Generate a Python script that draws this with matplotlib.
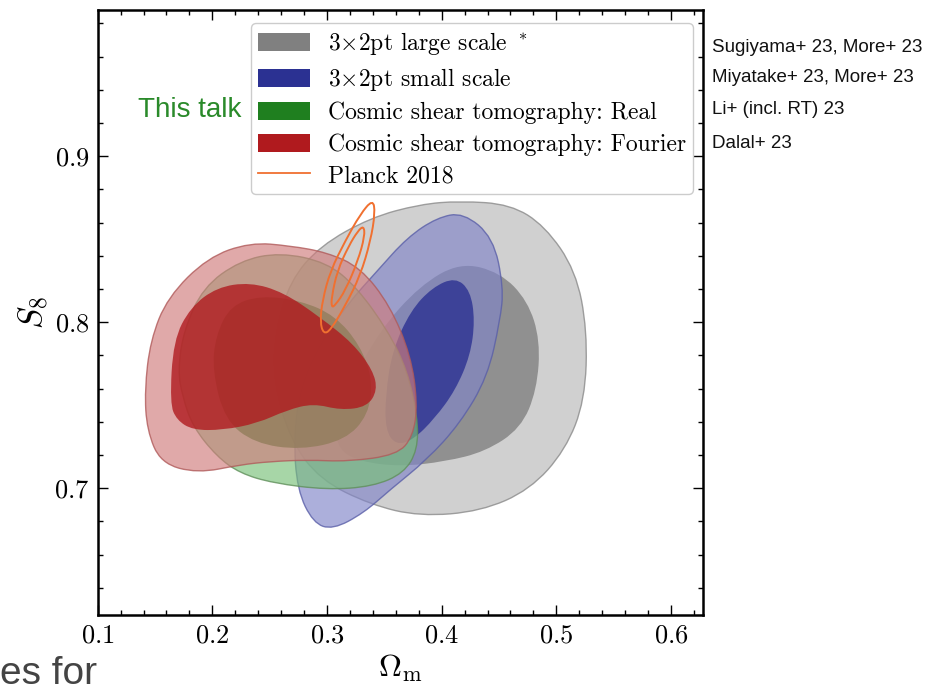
import numpy as np
import matplotlib
matplotlib.use("Agg")
import matplotlib.pyplot as plt
from matplotlib.path import Path
from matplotlib.patches import PathPatch, Patch
from matplotlib.lines import Line2D

plt.rcParams['font.family'] = 'serif'
plt.rcParams['font.serif'] = ['cmr10', 'DejaVu Serif']
plt.rcParams['mathtext.fontset'] = 'cm'
plt.rcParams['axes.formatter.use_mathtext'] = True

# contour outlines (Omega_m, S8)
gray_outer_x = [0.416, 0.460, 0.490, 0.517, 0.527, 0.525, 0.508, 0.477, 0.434, 0.381,
                0.338, 0.294, 0.268, 0.253, 0.255, 0.268, 0.294, 0.338, 0.381]
gray_outer_y = [0.873, 0.871, 0.858, 0.831, 0.795, 0.753, 0.723, 0.699, 0.686, 0.683,
                0.690, 0.705, 0.729, 0.765, 0.795, 0.825, 0.846, 0.863, 0.871]
gray_inner_x = [0.416, 0.451, 0.475, 0.486, 0.483, 0.469, 0.438, 0.403, 0.364, 0.329,
                0.310, 0.307, 0.320, 0.346, 0.381]
gray_inner_y = [0.836, 0.830, 0.813, 0.789, 0.759, 0.736, 0.722, 0.716, 0.713, 0.716,
                0.723, 0.738, 0.762, 0.795, 0.822]

blue_outer_x = [0.419, 0.445, 0.454, 0.451, 0.440, 0.416, 0.387, 0.355, 0.332, 0.305,
                0.288, 0.274, 0.271, 0.277, 0.294, 0.318, 0.344, 0.370, 0.396]
blue_outer_y = [0.866, 0.851, 0.821, 0.801, 0.767, 0.739, 0.717, 0.699, 0.685, 0.675,
                0.679, 0.699, 0.731, 0.761, 0.787, 0.811, 0.831, 0.851, 0.863]
blue_inner_x = [0.412, 0.425, 0.429, 0.425, 0.412, 0.394, 0.375, 0.360, 0.351, 0.351,
                0.357, 0.373, 0.392]
blue_inner_y = [0.827, 0.819, 0.801, 0.780, 0.759, 0.742, 0.729, 0.726, 0.735, 0.756,
                0.783, 0.807, 0.821]

green_outer_x = [0.170, 0.175, 0.192, 0.224, 0.259, 0.300, 0.326, 0.353, 0.370, 0.379,
                 0.379, 0.367, 0.340, 0.300, 0.253, 0.224, 0.204, 0.183, 0.174]
green_outer_y = [0.771, 0.795, 0.821, 0.837, 0.842, 0.836, 0.821, 0.795, 0.771, 0.743,
                 0.723, 0.709, 0.701, 0.699, 0.703, 0.709, 0.719, 0.737, 0.755]
green_inner_x = [0.200, 0.203, 0.216, 0.242, 0.277, 0.307, 0.329, 0.340, 0.336, 0.316,
                 0.277, 0.237, 0.211]
green_inner_y = [0.771, 0.792, 0.810, 0.816, 0.813, 0.804, 0.786, 0.765, 0.744, 0.729,
                 0.723, 0.727, 0.741]

red_outer_x = [0.143, 0.141, 0.146, 0.161, 0.196, 0.233, 0.268, 0.300, 0.329, 0.355,
               0.373, 0.379, 0.375, 0.361, 0.318, 0.283, 0.250, 0.224, 0.187, 0.155]
red_outer_y = [0.735, 0.759, 0.789, 0.815, 0.839, 0.848, 0.846, 0.842, 0.833, 0.810,
               0.780, 0.751, 0.731, 0.720, 0.716, 0.717, 0.716, 0.714, 0.709, 0.715]
red_inner_x = [0.163, 0.166, 0.181, 0.204, 0.233, 0.262, 0.294, 0.323, 0.340, 0.344,
               0.335, 0.312, 0.288, 0.265, 0.239, 0.209, 0.183, 0.169]
red_inner_y = [0.751, 0.789, 0.809, 0.821, 0.824, 0.818, 0.803, 0.787, 0.771, 0.759,
               0.749, 0.747, 0.751, 0.747, 0.739, 0.735, 0.735, 0.741]

planck_outer_x = [0.340, 0.342, 0.338, 0.329, 0.316, 0.303, 0.297, 0.294, 0.296, 0.303,
                  0.316, 0.329]
planck_outer_y = [0.874, 0.866, 0.849, 0.828, 0.810, 0.795, 0.793, 0.800, 0.813, 0.831,
                  0.849, 0.865]
planck_inner_x = [0.332, 0.333, 0.327, 0.316, 0.307, 0.304, 0.304, 0.309, 0.319, 0.327]
planck_inner_y = [0.858, 0.852, 0.837, 0.819, 0.810, 0.809, 0.815, 0.831, 0.846, 0.855]

labels = ["3$\\times$2pt large scale $^*$", "3$\\times$2pt small scale",
          "Cosmic shear tomography: Real", "Cosmic shear tomography: Fourier",
          "Planck 2018"]
colors = ['#808080', '#2b3192', '#1f7f1f', '#b01a1e']
light_colors = ['#b8b8b8', '#8084c8', '#78c078', '#d07c7c']
edge_colors = ['#8a8a8a', '#5a5fa8', '#5f8f5a', '#b05a5a']
planck_color = '#f07030'
refs = ["Sugiyama+ 23, More+ 23", "Miyatake+ 23, More+ 23",
        "Li+ (incl. RT) 23", "Dalal+ 23"]


def smooth(xs, ys):
    # closed quadratic bezier through the midpoints, vertices as controls
    p = np.column_stack([xs, ys])
    m = (p + np.roll(p, -1, axis=0)) / 2
    verts = [m[-1]]
    codes = [Path.MOVETO]
    for i in range(len(p)):
        verts += [p[i], m[i]]
        codes += [Path.CURVE3, Path.CURVE3]
    return Path(verts, codes)


fig = plt.figure(figsize=(9.3, 6.97), dpi=100)
ax = fig.add_axes([0.105, 0.1175, 0.651, 0.868])

sets = [
    (gray_outer_x, gray_outer_y, gray_inner_x, gray_inner_y),
    (blue_outer_x, blue_outer_y, blue_inner_x, blue_inner_y),
    (green_outer_x, green_outer_y, green_inner_x, green_inner_y),
    (red_outer_x, red_outer_y, red_inner_x, red_inner_y),
]
for (ox, oy, ix, iy), c, lc, ec in zip(sets, colors, light_colors, edge_colors):
    ax.add_patch(PathPatch(smooth(ox, oy), facecolor=lc, alpha=0.65, edgecolor='none'))
    ax.add_patch(PathPatch(smooth(ix, iy), facecolor=c, alpha=0.8, edgecolor='none'))
    ax.add_patch(PathPatch(smooth(ox, oy), facecolor='none', edgecolor=ec, alpha=0.8, lw=1.0))

for px, py in [(planck_outer_x, planck_outer_y), (planck_inner_x, planck_inner_y)]:
    ax.add_patch(PathPatch(smooth(px, py), facecolor='none', edgecolor=planck_color, lw=1.4))

ax.set_xlim(0.1, 0.628)
ax.set_ylim(0.6235, 0.988)
ax.set_xticks([0.1, 0.2, 0.3, 0.4, 0.5, 0.6])
ax.set_yticks([0.7, 0.8, 0.9])
ax.xaxis.set_minor_locator(matplotlib.ticker.MultipleLocator(0.02))
ax.yaxis.set_minor_locator(matplotlib.ticker.MultipleLocator(0.02))
ax.tick_params(which='both', direction='in', top=True, right=True, labelsize=19, width=1.0)
ax.tick_params(which='major', length=7, pad=6)
ax.tick_params(which='minor', length=3.5)
for s in ax.spines.values():
    s.set_linewidth(1.8)
ax.set_xlabel("$\\Omega_{\\rm m}$", fontsize=23, labelpad=4)
ax.set_ylabel("$S_8$", fontsize=24, labelpad=3)

handles = [Patch(facecolor=c) for c in colors] + [Line2D([], [], color=planck_color, lw=1.3)]
leg = ax.legend(handles, labels, loc='upper right', bbox_to_anchor=(0.983, 0.979),
                borderaxespad=0, fontsize=17, handlelength=2.2, handleheight=0.8,
                handletextpad=0.75, labelspacing=0.38, borderpad=0.3,
                framealpha=1, edgecolor='#cccccc')

fig.text(138 / 930, 1 - 110 / 697, "This talk", color='#2a8a2a', fontsize=20,
         family='Liberation Sans', va='center', ha='left')
ref_y = [47, 77, 109, 143]
for t, yy in zip(refs, ref_y):
    fig.text(712 / 930, 1 - yy / 697, t, fontsize=13.5, family='Liberation Sans',
             va='center', ha='left', color='#111111')
fig.text(0.0, 1 - 674 / 697, "es for", fontsize=28, family='Liberation Sans',
         va='center', ha='left', color='#444444')

fig.savefig("out.png", dpi=100)
